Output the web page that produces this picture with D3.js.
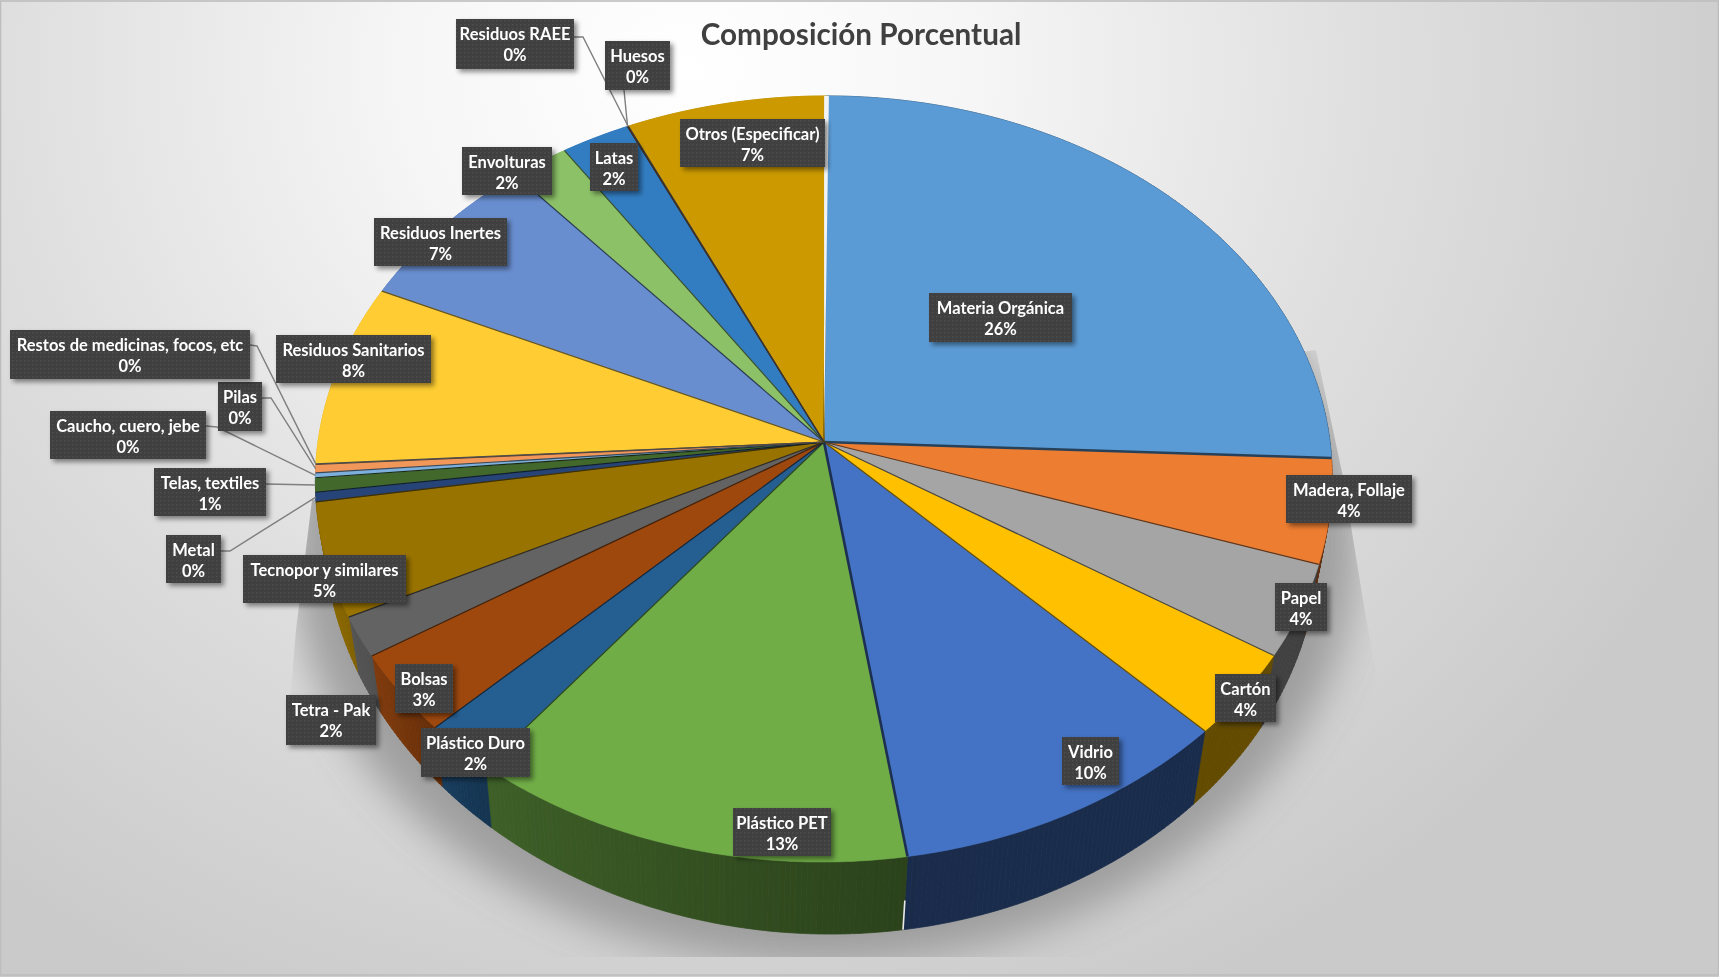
<!DOCTYPE html>
<html>
<head>
<meta charset="utf-8">
<script src="https://cdn.jsdelivr.net/npm/d3@7"></script>
<style>
  html, body { margin: 0; padding: 0; background: #fff; overflow: hidden; }
  svg { filter: blur(0.45px); }
  text { font-family: Lato, "Open Sans", sans-serif; font-weight: 700; }
</style>
</head>
<body>
<svg id="chart" width="1719" height="977"></svg>
<script>
// values (percent, decimals)
const categories = ['Materia Orgánica', 'Madera, Follaje', 'Papel', 'Cartón', 'Vidrio', 'Plástico PET', 'Plástico Duro', 'Bolsas', 'Tetra - Pak', 'Tecnopor y similares', 'Metal', 'Telas, textiles', 'Caucho, cuero, jebe', 'Pilas', 'Restos de medicinas, focos, etc', 'Residuos Sanitarios', 'Residuos Inertes', 'Envolturas', 'Latas', 'Huesos', 'Residuos RAEE', 'Otros (Especificar)']
const percents = [25.7, 4.4, 3.9, 3.6, 10.0, 13.0, 2.1, 3.4, 1.7, 4.8, 0.4, 0.6, 0.2, 0.35, 0.03, 7.7, 6.8, 2.0, 2.4, 0.02, 0.02, 7.0]
const colors = ['#5b9bd5', '#ed7d31', '#a5a5a5', '#ffc000', '#4472c4', '#70ad47', '#255e91', '#9e480e', '#636363', '#997300', '#264478', '#43682b', '#7cafdd', '#f1975a', '#b7b7b7', '#ffcd33', '#698ed0', '#8cc168', '#327dc2', '#d26012', '#848484', '#cc9a00']

// label boxes [x0, y0, x1, y1], same order as categories
const labelBoxes = [[929, 293, 1072, 342], [1286, 475, 1412, 523], [1275, 583, 1327, 631], [1215, 674, 1276, 722], [1062, 737, 1119, 785], [733, 808, 831, 856], [421, 728, 530, 777], [395, 664, 453, 713], [286, 695, 376, 745], [243, 555, 406, 603], [166, 535, 221, 583], [154, 468, 266, 516], [50, 411, 206, 459], [218, 382, 262, 431], [10, 330, 250, 379], [276, 335, 431, 383], [374, 218, 507, 266], [462, 147, 552, 195], [590, 143, 638, 191], [605, 41, 670, 90], [456, 19, 574, 69], [680, 119, 825, 167]]
// leader lines for the thin slices: category index -> points starting at the box
const leaders = { 10: [[221, 551], [230, 551]], 11: [[266, 484]], 12: [[206, 426], [217, 427]], 13: [[262, 398], [271, 398]], 14: [[250, 345], [257, 346]], 19: [[624, 90]], 20: [[574, 37], [583, 37]] }

const width = 1719
const height = 977
const svg = d3.select('#chart')
const defs = svg.append('defs')

// 3d pie geometry
const cx = 824
const cy = 442
const rx = 506
const ry = 379.5
const persp = 0.0966
const lean = 2.5
const wallScale = 0.976

// top face point, theta clockwise from 12 o'clock
const project = (theta) => {
  const u = Math.sin(theta)
  const v = -Math.cos(theta)
  const w = 1 - persp * v
  return [cx + (rx * u) / w - lean * v, cy + (ry * v) / w]
}
// matching point on the bottom rim
const projectBottom = (theta) => {
  const [x, y] = project(theta)
  const u = Math.sin(theta)
  return [cx - 2.5 + wallScale * (x - cx), cy + wallScale * (y - cy) + 82 + 10 * u - 18 * u * u]
}
const arcPoints = (a0, a1, fn) => {
  const n = Math.max(2, Math.ceil((a1 - a0) / 0.01))
  return d3.range(n + 1).map((i) => fn(a0 + ((a1 - a0) * i) / n))
}
const line = d3.line()
const slices = d3.pie().sort(null).value((d) => d)(percents)

// wall brightness changes round the pie (darker at the front right)
const wallShade = d3.scaleLinear().domain([0, 170, 217, 235, 250, 360].map((d) => (d * Math.PI) / 180)).range([0.42, 0.38, 0.55, 0.78, 0.9, 0.9]).clamp(true)
const shadeColor = (c, k) => {
  const o = d3.rgb(c)
  return d3.rgb(o.r * k, o.g * k, o.b * k).formatHex()
}

// background
const bg = defs.append('radialGradient').attr('id', 'bg').attr('gradientUnits', 'userSpaceOnUse')
  .attr('cx', 0).attr('cy', 0).attr('r', 1)
  .attr('gradientTransform', 'translate(690,70) scale(1130,1030)')
bg.selectAll('stop').data([[0, '#ffffff'], [0.25, '#f6f6f6'], [0.6, '#dfdfdf'], [1, '#cacaca']]).join('stop')
  .attr('offset', (d) => d[0]).attr('stop-color', (d) => d[1])
svg.append('rect').attr('width', width).attr('height', height).attr('fill', 'url(#bg)')
svg.append('rect').attr('x', 0.5).attr('y', 1).attr('width', width - 1).attr('height', height - 3).attr('fill', 'none').attr('stroke', '#bdbdbd').attr('stroke-width', 1.6)

// pie shadow: blurred shape cut by straight edges
defs.append('filter').attr('id', 'blur').attr('x', '-20%').attr('y', '-20%').attr('width', '140%').attr('height', '140%')
  .append('feGaussianBlur').attr('stdDeviation', 20)
defs.append('clipPath').attr('id', 'shadowClip').append('polygon')
  .attr('points', '1316,350 1343,477 1363,600 1400,810 1400,957 200,957 285,760 296,630 312,500')
const shadowRim = arcPoints(0, 2 * Math.PI, (t) => {
  const [x, y] = project(t)
  return [cx + 1.05 * (x - cx), cy + 1.1 * (y - cy) + 61]
})
svg.append('g').attr('clip-path', 'url(#shadowClip)')
  .append('path').attr('d', line(shadowRim) + 'Z').attr('fill', '#949494').attr('opacity', 0.85).attr('filter', 'url(#blur)')

// side wall, drawn in thin strips so the shade can run along it
slices.forEach((s, i) => {
  const pts = arcPoints(s.startAngle, s.endAngle, (t) => t)
  d3.pairs(pts).forEach(([t0, t1]) => {
    const c = shadeColor(colors[i], wallShade(t0))
    svg.append('path')
      .attr('d', line([project(t0), project(t1), projectBottom(t1), projectBottom(t0)]) + 'Z')
      .attr('fill', c).attr('stroke', c).attr('stroke-width', 0.7)
  })
})

// top face
svg.append('g').selectAll('path').data(slices).join('path')
  .attr('d', (s) => line([[cx, cy], ...arcPoints(s.startAngle, s.endAngle, project)]) + 'Z')
  .attr('fill', (s, i) => colors[i])
  .attr('stroke', (s, i) => colors[i])
  .attr('stroke-width', 0.5)

// dark edges between the slices
svg.append('g').selectAll('line').data(slices).join('line')
  .attr('x1', cx).attr('y1', cy)
  .attr('x2', (s) => project(s.endAngle)[0])
  .attr('y2', (s) => project(s.endAngle)[1])
  .attr('stroke', (s, i) => shadeColor(colors[i], 0.42))
  .attr('stroke-width', (s, i) => (i === 0 || i === 4 ? 2.6 : 1.2))
// light gap at 12 o'clock, getting wider towards the rim, and a small one in the front wall
const top0 = project(0)
svg.append('path').attr('d', line([[cx, cy], [top0[0] - 2.4, top0[1]], [top0[0] + 2.4, top0[1]]]) + 'Z')
  .attr('fill', '#f2f4f4')
const gapAngle = slices[4].endAngle
const gapTop = project(gapAngle)
const gapBottom = projectBottom(gapAngle)
svg.append('line').attr('x1', d3.interpolate(gapTop[0], gapBottom[0])(0.6)).attr('y1', d3.interpolate(gapTop[1], gapBottom[1])(0.6))
  .attr('x2', gapBottom[0]).attr('y2', gapBottom[1])
  .attr('stroke', '#e8e8e8').attr('stroke-width', 1.6)

// leader lines
Object.entries(leaders).forEach(([k, pts]) => {
  const s = slices[+k]
  const end = project((s.startAngle + s.endAngle) / 2)
  svg.append('path').attr('d', line([...pts, end])).attr('fill', 'none').attr('stroke', '#7f7f7f').attr('stroke-width', 1.4)
})

// data labels
const dots = defs.append('pattern').attr('id', 'dots').attr('width', 4).attr('height', 4).attr('patternUnits', 'userSpaceOnUse')
dots.append('rect').attr('width', 4).attr('height', 4).attr('fill', '#404040')
dots.append('rect').attr('width', 1.4).attr('height', 1.4).attr('fill', '#4e4e4e')
defs.append('filter').attr('id', 'boxShadow').attr('x', '-20%').attr('y', '-20%').attr('width', '140%').attr('height', '140%')
  .append('feDropShadow').attr('dx', 3).attr('dy', 3).attr('stdDeviation', 2.5).attr('flood-color', '#000').attr('flood-opacity', 0.45)

const labels = svg.append('g').selectAll('g').data(categories).join('g')
labels.append('rect')
  .attr('x', (d, i) => labelBoxes[i][0])
  .attr('y', (d, i) => labelBoxes[i][1])
  .attr('width', (d, i) => labelBoxes[i][2] - labelBoxes[i][0])
  .attr('height', (d, i) => labelBoxes[i][3] - labelBoxes[i][1])
  .attr('fill', 'url(#dots)')
  .attr('filter', 'url(#boxShadow)')
labels.append('text')
  .attr('x', (d, i) => (labelBoxes[i][0] + labelBoxes[i][2]) / 2)
  .attr('y', (d, i) => labelBoxes[i][1] + 21)
  .attr('text-anchor', 'middle').attr('font-size', 16.5).attr('fill', '#fff')
  .text((d) => d)
labels.append('text')
  .attr('x', (d, i) => (labelBoxes[i][0] + labelBoxes[i][2]) / 2)
  .attr('y', (d, i) => labelBoxes[i][1] + 42)
  .attr('text-anchor', 'middle').attr('font-size', 16.5).attr('fill', '#fff')
  .text((d, i) => Math.round(percents[i]) + '%')

// title
svg.append('text').attr('x', 861).attr('y', 45).attr('text-anchor', 'middle')
  .attr('font-size', 29.7).attr('fill', '#404040').text('Composición Porcentual')
</script>
</body>
</html>
